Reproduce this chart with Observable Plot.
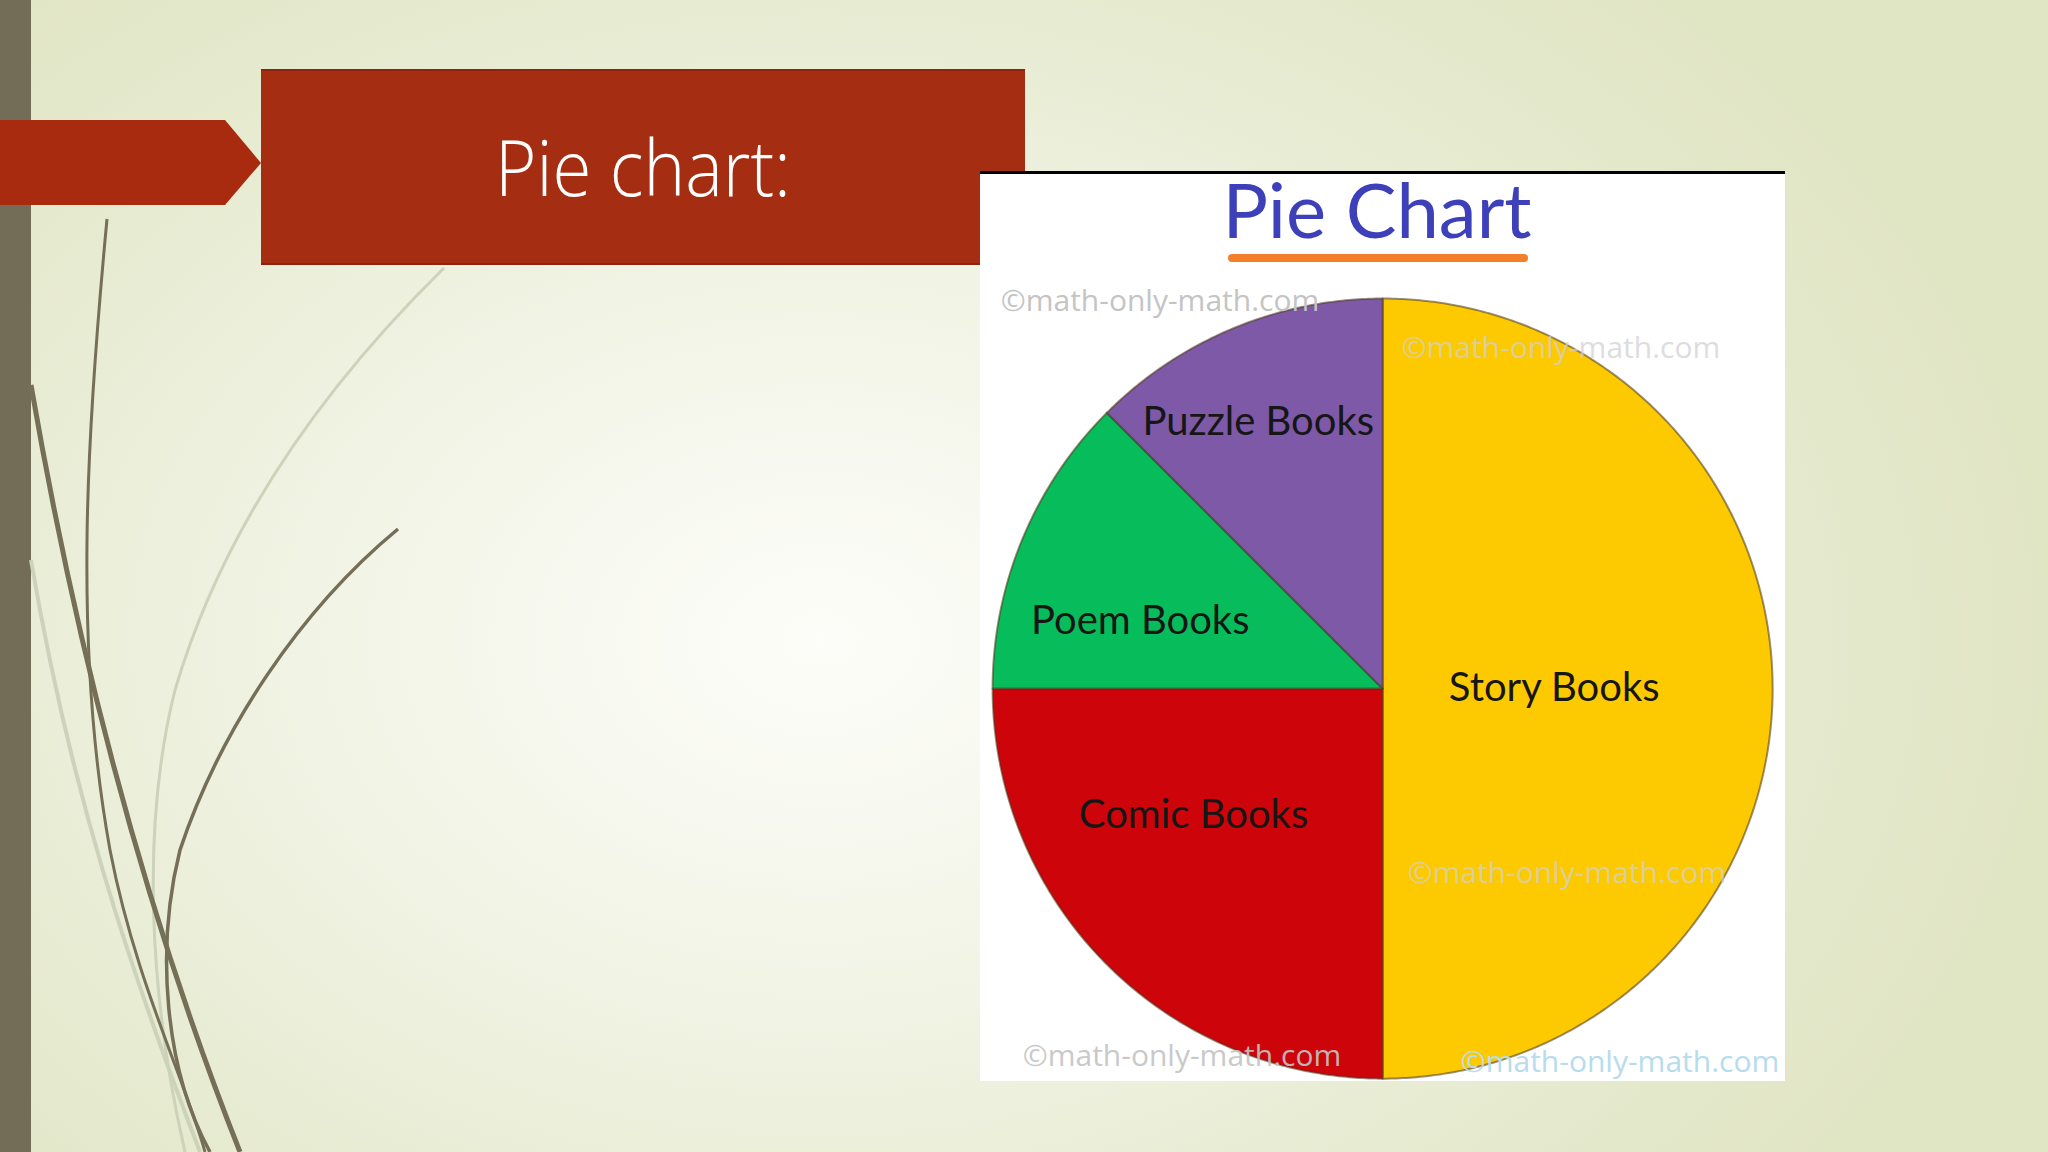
<!DOCTYPE html>
<html>
<head>
<meta charset="utf-8">
<script src="https://cdn.jsdelivr.net/npm/d3@7"></script>
<script src="https://cdn.jsdelivr.net/npm/@observablehq/plot@0.6"></script>
<style>
  html, body { margin: 0; padding: 0; }
  body { width: 2048px; height: 1152px; overflow: hidden; }
  #slide {
    position: relative; width: 2048px; height: 1152px; overflow: hidden;
    background: radial-gradient(ellipse 1250px 900px at 820px 640px, #fdfdf9 0%, #f3f5e8 35%, #e6eacf 75%, #e0e5c4 100%);
  }
  #decor { position: absolute; left: 0; top: 0; }
  #titlebox {
    position: absolute; left: 261px; top: 69px; width: 764px; height: 196px;
    background: #a52d12; box-sizing: border-box;
    border-top: 2px solid #8c2410; border-bottom: 2px solid #8c2410;
  }
  #titlebox span {
    position: absolute; left: 0; width: 764px; top: 42px; text-align: center;
    color: #ffffff; font-family: "Open Sans", sans-serif; font-weight: 300;
    font-size: 77px; line-height: 1.4; white-space: nowrap;
    transform: scaleX(0.92); transform-origin: center;
  }
  #panel {
    position: absolute; left: 980px; top: 171px; width: 805px; height: 910px;
    background: #ffffff; overflow: hidden; border-top: 3px solid #000;
    box-sizing: border-box;
  }
  #panel svg.plot { position: absolute; left: 0; top: 0; }
  #pctitle {
    position: absolute; left: 980px; width: 794px; top: 160px; text-align: center;
    font-family: Lato, sans-serif; font-size: 76px; color: #3d40b8; line-height: 1.3;
  }
  #underline {
    position: absolute; left: 1228px; top: 254px; width: 300px; height: 8px;
    background: #f47f2b; border-radius: 4px;
  }
  .wm {
    position: absolute; font-family: "Open Sans", sans-serif; font-size: 30px;
    line-height: 1.4; white-space: nowrap; transform: translate(-50%, -50%);
  }
</style>
</head>
<body>
<div id="slide">
  <svg id="decor" width="2048" height="1152">
    <rect x="0" y="0" width="31" height="1152" fill="#736c57"></rect>
    <path d="M444,268 C330,380 225,520 175,690 C140,830 150,1000 185,1152" fill="none" stroke="#cdd2ba" stroke-width="3"></path>
    <path d="M31,560 C70,790 130,970 200,1152" fill="none" stroke="#cdd2ba" stroke-width="4"></path>
    <path d="M107,219 C88,420 72,640 110,850 C135,980 185,1080 205,1152" fill="none" stroke="#756f58" stroke-width="3"></path>
    <path d="M31,385 C75,640 140,900 240,1152" fill="none" stroke="#756f58" stroke-width="5"></path>
    <path d="M398,529 C300,610 220,730 180,850 C155,950 165,1070 210,1152" fill="none" stroke="#756f58" stroke-width="3.5"></path>
    <polygon points="0,120 225,120 261,163 225,205 0,205" fill="#a82b10"></polygon>
  </svg>
  <div id="titlebox"><span>Pie chart:</span></div>
  <div id="panel"></div>
  <div id="pctitle"></div>
  <div id="underline"></div>
</div>
<script>
// ---- data ----
const categories = ["Story Books", "Comic Books", "Poem Books", "Puzzle Books"];
const shares = [50, 25, 12.5, 12.5];
const sliceColors = ["#fdca02", "#cd0409", "#07bd5b", "#7d59a8"];
const chartTitle = "Pie Chart";
const watermark = "©math-only-math.com";

// ---- label layout (pixel nudges, not data) ----
const labelNudge = {
  "Story Books": [0, 0],
  "Comic Books": [-25, -38],
  "Poem Books": [0, 33],
  "Puzzle Books": [-24, -24]
};

// ---- build pie geometry through d3.pie ----
const rows = categories.map((name, i) => ({name, share: shares[i]}));
const arcs = d3.pie().sort(null).value(d => d.share)(rows);
const outline = [];
const labels = [];
arcs.forEach(a => {
  const name = a.data.name;
  const n = Math.max(8, Math.ceil((a.endAngle - a.startAngle) / (Math.PI / 360)));
  outline.push({name, x: 0, y: 0});
  for (let i = 0; i <= n; i++) {
    const t = a.startAngle + (a.endAngle - a.startAngle) * i / n;
    outline.push({name, x: Math.sin(t), y: Math.cos(t)});
  }
  outline.push({name, x: 0, y: 0});
  const frac = (a.endAngle - a.startAngle) / (2 * Math.PI);
  const mid = (a.startAngle + a.endAngle) / 2;
  const r = 0.75 - 0.62 * frac;
  labels.push({name, x: r * Math.sin(mid), y: r * Math.cos(mid)});
});

const chart = Plot.plot({
  width: 805,
  height: 910,
  margin: 0,
  style: {background: "transparent", overflow: "visible"},
  x: {domain: [-1.031, 1.033], axis: null},
  y: {domain: [-1.015, 1.318], axis: null},
  color: {domain: categories, range: sliceColors},
  marks: [
    Plot.line(outline, {x: "x", y: "y", z: "name", fill: "name", stroke: "#4a3418", strokeOpacity: 0.55, strokeWidth: 2, strokeLinejoin: "round", curve: "linear"}),
    ...labels.map(l => Plot.text([l], {x: "x", y: "y", text: "name", dx: labelNudge[l.name][0], dy: labelNudge[l.name][1], fontSize: 40, fill: "#161616", fontFamily: "Lato, sans-serif"}))
  ]
});
const panel = document.getElementById("panel");
panel.appendChild(chart);

// watermarks
const wmSpots = [
  {left: 180, top: 126, color: "#c4c4c4", op: 1},
  {left: 581, top: 173, color: "#d0d0d0", op: 0.7},
  {left: 587, top: 698, color: "#d0d0d0", op: 0.7},
  {left: 202, top: 881, color: "#c4c4c4", op: 0.9},
  {left: 640, top: 887, color: "#b6dced", op: 1}
];
wmSpots.forEach(s => {
  const d = document.createElement("div");
  d.className = "wm";
  d.textContent = watermark;
  d.style.left = s.left + "px";
  d.style.top = s.top + "px";
  d.style.color = s.color;
  d.style.opacity = s.op;
  panel.appendChild(d);
});
document.getElementById("pctitle").textContent = chartTitle;
</script>
</body>
</html>
